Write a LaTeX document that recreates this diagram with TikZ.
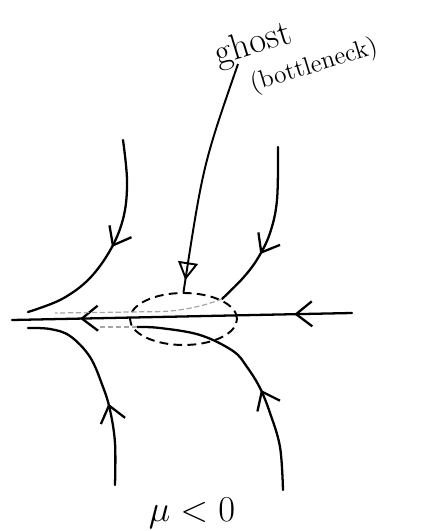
\documentclass[tikz,border=0pt]{standalone}
\usepackage{tikz}
\usetikzlibrary{arrows.meta,positioning,decorations.markings,shapes.geometric}
\tikzset{
  flowln/.style={line width=1.3pt, line cap=round, line join=round},
  faintln/.style={dash pattern=on 3pt off 1.5pt, line width=0.7pt, gray!70},
  barbat/.style={postaction={decorate, decoration={markings,
      mark=at position #1 with {\arrow{Straight Barb[length=3.2mm,width=5mm]}}}}},
  ghostln/.style={line width=1.1pt, postaction={decorate, decoration={markings,
      mark=at position -2.4mm with {\arrow{Triangle[open,length=3.6mm,width=4mm]}}}}},
  bneckbox/.style={draw, ellipse, dash pattern=on 5pt off 3pt, line width=1.1pt, inner sep=0pt},
}

\begin{document}
\begin{tikzpicture}[x=0.2mm, y=-0.2mm]
    \useasboundingbox (0,0) rectangle (447,531);
    % Axis with the flow to the left
    \draw[flowln, barbat=0.17, barbat=0.8] (352,313) -- (12,320);
    % Ghost region (bottleneck)
    \node[bneckbox, minimum width=21.4mm, minimum height=10.4mm] (bneck) at (183.5,319) {};
    % Trajectories above the axis
    \draw[flowln, barbat=0.5] plot[smooth, tension=0.6] coordinates
      {(123,140) (127,180) (124,215) (112,247) (90,278) (62,299) (28,312)};
    \draw[flowln, barbat=0.65] plot[smooth, tension=0.6] coordinates
      {(278,147) (277,200) (270,233) (258,258) (243,278) (222,299)};
    \draw[faintln] plot[smooth, tension=0.6] coordinates
      {(222,299) (200,306) (170,311) (130,312) (55,313)};
    % Trajectories below the axis
    \draw[flowln, barbat=0.4] plot[smooth, tension=0.6] coordinates
      {(115,485) (115,443) (110,410) (103,387) (90,357) (70,336) (50,329) (28,328)};
    \draw[flowln, barbat=0.41] plot[smooth, tension=0.6] coordinates
      {(283,490) (280,447) (270,413) (260,388) (247,367) (233,351) (200,335) (160,328) (137,327)};
    \draw[faintln] (137,327) -- (100,327);
    % Labels
    \node[rotate=17, font=\huge, align=left, inner sep=1pt] (ghost) at (296,50)
      {ghost\\[-5pt]\hspace{5mm}{\Large(bottleneck)}};
    \coordinate (ghosttail) at (238,64);
    \draw[ghostln] (ghosttail) .. controls (203,165) .. (bneck.north);
    \node[font=\huge] (mulabel) at (192,513) {$\mu<0$};
  \end{tikzpicture}
\end{document}
